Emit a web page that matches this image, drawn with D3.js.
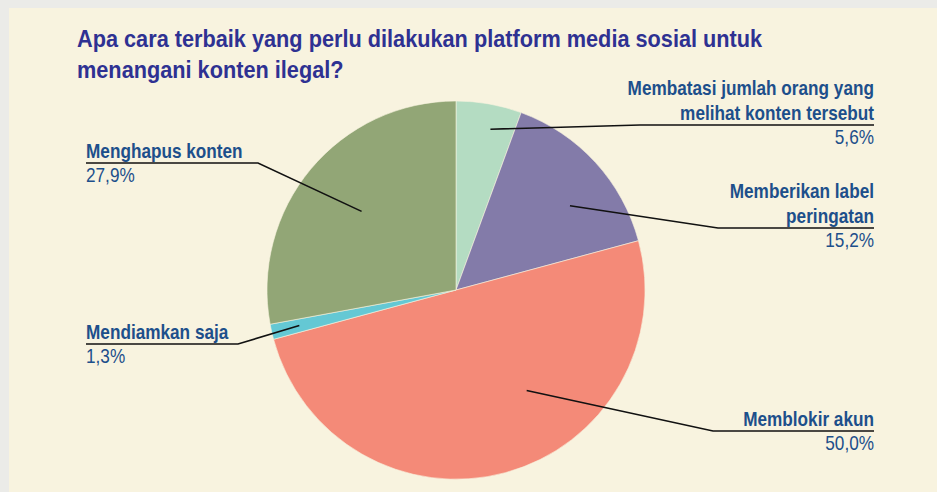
<!DOCTYPE html>
<html>
<head>
<meta charset="utf-8">
<script src="https://cdn.jsdelivr.net/npm/d3@7"></script>
<style>
  html, body { margin: 0; padding: 0; background: #ebebe8; }
  svg { display: block; }
</style>
</head>
<body>
<div id="chart"></div>
<script>
// data
var categories = ["Membatasi jumlah orang yang melihat konten tersebut", "Memberikan label peringatan", "Memblokir akun", "Mendiamkan saja", "Menghapus konten"];
var values = [5.6, 15.2, 50.0, 1.3, 27.9];
var colors = ["#b4dcc2", "#837ba9", "#f48a78", "#64c8d4", "#92a676"];
// label text, split over lines
var labelLines = [
    ["Membatasi jumlah orang yang", "melihat konten tersebut"],
    ["Memberikan label", "peringatan"],
    ["Memblokir akun"],
    ["Mendiamkan saja"],
    ["Menghapus konten"]
];
var titleLines = ["Apa cara terbaik yang perlu dilakukan platform media sosial untuk", "menangani konten ilegal?"];

var width = 937, height = 492;
var cx = 456, cy = 290, radius = 189;

// label placement: side, y of underline, elbow x, leader start (angle offset deg, radius fraction)
var labelPos = [
    {side: "right", lineY: 125, elbowX: 640, dA: 2, rf: 0.87},
    {side: "right", lineY: 228, elbowX: 718, dA: 6, rf: 0.75},
    {side: "right", lineY: 431, elbowX: 713, dA: -20, rf: 0.65},
    {side: "left",  lineY: 344, elbowX: 238, dA: 0, rf: 0.85},
    {side: "left",  lineY: 163, elbowX: 258, dA: 0, rf: 0.65}
];

var svg = d3.select("#chart").append("svg")
    .attr("width", width)
    .attr("height", height);

// panel
svg.append("rect")
    .attr("x", 9).attr("y", 8)
    .attr("width", width - 9).attr("height", height - 8)
    .attr("fill", "#f8f3df");

var font = "'Liberation Sans', Arial, sans-serif";

// condensed text: horizontal squeeze around the anchor point
function narrowText(x, y, sx, anchor) {
    return svg.append("text")
        .attr("transform", "translate(" + x + "," + y + ") scale(" + sx + ",1)")
        .attr("text-anchor", anchor)
        .attr("font-family", font);
}

// title
titleLines.forEach(function(t, k) {
    narrowText(77, 46.5 + k * 31, 0.944, "start")
        .attr("fill", "#2e3192")
        .attr("font-weight", "bold")
        .attr("font-size", "23px")
        .text(t);
});

var pie = d3.pie().sort(null).value(function(d) { return d; });
var arcs = pie(values);
var arc = d3.arc().innerRadius(0).outerRadius(radius);

var g = svg.append("g").attr("transform", "translate(" + cx + "," + cy + ")");

g.selectAll("path.slice")
    .data(arcs)
    .enter().append("path")
    .attr("class", "slice")
    .attr("d", arc)
    .attr("fill", function(d, i) { return colors[i]; })
    .attr("stroke", "#f8f3df")
    .attr("stroke-width", 0.6);

var leftX = 86, rightX = 874;
var fmt = function(v) { return d3.format(".1f")(v).replace(".", ",") + "%"; };

arcs.forEach(function(d, i) {
    var p = labelPos[i];
    var mid = (d.startAngle + d.endAngle) / 2 + p.dA * Math.PI / 180;
    var r = radius * p.rf;
    var sx = cx + Math.sin(mid) * r;
    var sy = cy - Math.cos(mid) * r;
    var endX = p.side === "right" ? rightX : leftX;

    svg.append("polyline")
        .attr("points", [[sx, sy], [p.elbowX, p.lineY], [endX, p.lineY]].map(function(q) { return q.join(","); }).join(" "))
        .attr("fill", "none")
        .attr("stroke", "#111")
        .attr("stroke-width", 1.6);

    var anchor = p.side === "right" ? "end" : "start";
    var lines = labelLines[i];
    lines.forEach(function(t, k) {
        narrowText(endX, p.lineY - 5 - (lines.length - 1 - k) * 25, 0.86, anchor)
            .attr("fill", "#1d4f8b")
            .attr("font-weight", "bold")
            .attr("font-size", "20px")
            .text(t);
    });
    narrowText(endX, p.lineY + 19, 0.86, anchor)
        .attr("fill", "#1d4f8b")
        .attr("font-size", "20px")
        .text(fmt(values[i]));
});
</script>
</body>
</html>
